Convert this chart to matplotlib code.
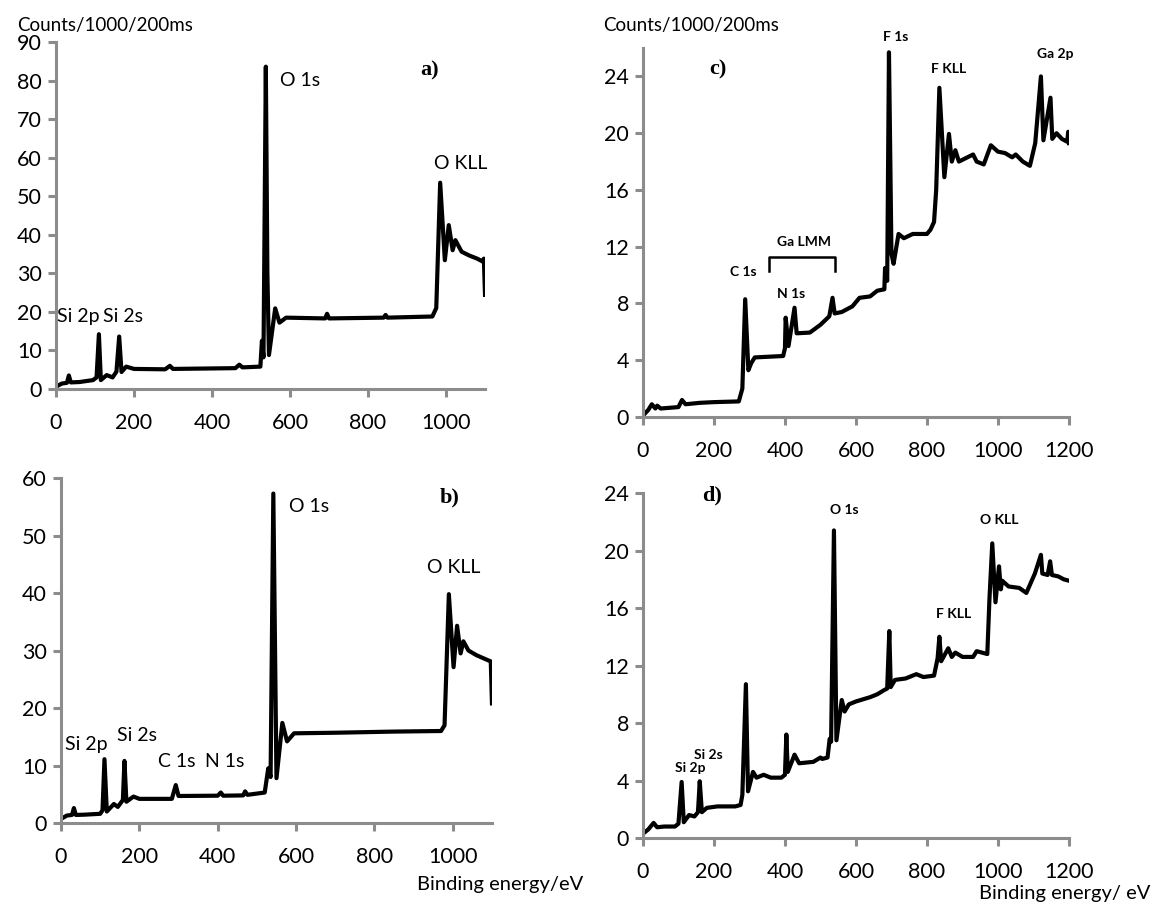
import matplotlib
matplotlib.use("Agg")
import matplotlib.pyplot as plt

plt.rcParams['font.family'] = ['Lato', 'DejaVu Sans']

# -------------------------------
# Spectra (binding energy / eV, counts/1000/200ms)
# -------------------------------
a_ev = [0, 15, 28, 33, 38, 60, 95, 104, 110, 115, 130, 145, 155, 162, 168, 180, 200,
        280, 292, 300, 460, 470, 478, 524, 528, 532, 538, 542, 546, 562, 573, 590,
        690, 695, 700, 840, 845, 850, 965, 975, 985, 997, 1007, 1017, 1024, 1040,
        1060, 1080, 1095, 1097, 1100]
a_cnt = [0.6, 1.4, 1.6, 3.5, 1.7, 1.8, 2.3, 3.0, 14.2, 2.3, 3.6, 3.0, 4.5, 13.6, 4.4,
         5.8, 5.2, 5.1, 6.0, 5.2, 5.4, 6.3, 5.6, 5.8, 12.5, 8.2, 83.6, 30.0, 8.8,
         20.9, 17.2, 18.5, 18.3, 19.5, 18.3, 18.5, 19.2, 18.5, 18.8, 21.0, 53.5,
         33.4, 42.5, 36.0, 38.6, 35.6, 34.6, 33.8, 33.0, 33.8, 24.4]

b_ev = [0, 15, 28, 33, 38, 60, 100, 106, 111, 117, 135, 145, 158, 162, 167, 185, 200,
        283, 293, 300, 400, 408, 414, 465, 470, 476, 520, 529, 535, 542, 550, 565,
        577, 595, 700, 850, 970, 979, 990, 1002, 1011, 1020, 1027, 1040, 1060, 1080,
        1097, 1100]
b_cnt = [0.7, 1.3, 1.4, 2.6, 1.4, 1.45, 1.6, 2.2, 11.1, 2.0, 3.3, 2.8, 4.0, 10.8, 3.7,
         4.6, 4.2, 4.2, 6.6, 4.7, 4.75, 5.3, 4.75, 4.8, 5.5, 4.9, 5.3, 9.5, 8.0, 57.3,
         7.8, 17.4, 14.2, 15.6, 15.7, 15.9, 16.0, 17.0, 39.8, 27.1, 34.3, 29.5, 31.6,
         30.0, 29.2, 28.6, 28.1, 20.8]

c_ev = [0, 15, 25, 35, 40, 50, 100, 110, 120, 160, 200, 270, 280, 288, 297, 305, 315,
        395, 400, 402, 410, 427, 433, 470, 500, 525, 534, 540, 560, 590, 610, 640,
        660, 680, 682, 688, 693, 700, 706, 720, 735, 760, 800, 810, 820, 826, 835,
        849, 862, 870, 880, 890, 930, 940, 960, 980, 1000, 1020, 1040, 1050, 1070,
        1090, 1105, 1121, 1128, 1148, 1153, 1165, 1180, 1195, 1198, 1200]
c_cnt = [0.1, 0.5, 0.9, 0.6, 0.8, 0.6, 0.7, 1.2, 0.9, 1.0, 1.05, 1.1, 2.0, 8.3, 3.3,
         3.8, 4.2, 4.3, 4.85, 7.0, 5.0, 7.7, 5.9, 5.95, 6.5, 7.1, 8.4, 7.3, 7.4, 7.8,
         8.4, 8.5, 8.9, 9.0, 10.5, 9.6, 25.7, 11.5, 10.8, 12.9, 12.6, 12.9, 12.9,
         13.2, 13.75, 16.0, 23.2, 16.9, 19.95, 18.0, 18.8, 18.0, 18.5, 18.0, 17.8,
         19.15, 18.7, 18.6, 18.3, 18.5, 18.0, 17.7, 19.3, 24.0, 19.5, 22.5, 19.6,
         20.0, 19.6, 19.4, 20.1, 19.3]

d_ev = [0, 15, 30, 40, 60, 90, 100, 109, 115, 130, 145, 155, 160, 166, 180, 210, 260,
        275, 280, 290, 296, 310, 320, 340, 360, 390, 400, 404, 408, 427, 440, 480,
        500, 505, 520, 526, 530, 538, 545, 560, 568, 580, 600, 640, 660, 680, 688,
        694, 698, 710, 740, 770, 790, 820, 830, 835, 840, 860, 870, 880, 900, 930,
        940, 970, 976, 984, 993, 1003, 1008, 1012, 1030, 1060, 1080, 1104, 1121,
        1125, 1140, 1147, 1152, 1170, 1185, 1200]
d_cnt = [0.3, 0.6, 1.05, 0.75, 0.8, 0.8, 1.0, 3.9, 1.1, 1.6, 1.5, 1.8, 3.95, 1.8, 2.1,
         2.2, 2.2, 2.3, 3.0, 10.7, 3.25, 4.6, 4.2, 4.4, 4.2, 4.2, 4.4, 7.2, 4.6, 5.8,
         5.2, 5.3, 5.6, 5.5, 5.6, 6.9, 6.7, 21.4, 6.8, 9.6, 8.8, 9.3, 9.5, 9.8, 10.0,
         10.3, 10.4, 14.4, 10.5, 11.0, 11.1, 11.4, 11.2, 11.3, 12.5, 14.0, 12.3,
         13.2, 12.6, 12.9, 12.6, 12.6, 13.0, 12.8, 16.6, 20.5, 16.4, 18.9, 17.3,
         17.9, 17.5, 17.4, 17.05, 18.4, 19.7, 18.4, 18.3, 19.25, 18.3, 18.2, 18.0,
         17.9]

# peak labels: (text, x, y)
a_labels = [('O 1s', 575, 80), ('O KLL', 968, 58.5), ('Si 2p', 3, 18.9), ('Si 2s', 121, 18.9)]
b_labels = [('O 1s', 582, 55), ('O KLL', 934, 44.5), ('Si 2p', 10, 13.6), ('Si 2s', 144, 15.3),
            ('C 1s', 247, 10.7), ('N 1s', 367, 10.7)]
c_labels = [('F 1s', 712, 26.8), ('F KLL', 860, 24.5), ('Ga 2p', 1160, 25.6),
            ('C 1s', 283, 10.2), ('Ga LMM', 453, 12.3), ('N 1s', 418, 8.7)]
d_labels = [('O 1s', 568, 22.8), ('O KLL', 1003, 22.1), ('F KLL', 875, 15.6),
            ('Si 2p', 132, 4.9), ('Si 2s', 185, 5.8)]
ga_lmm_range = (354, 540)

GREY = '#8c8c8c'
LW = 3.0


def style_axis(ax, xmax, ymax, ystep):
    ax.set_xlim(0, xmax)
    ax.set_ylim(0, ymax)
    ax.set_xticks(range(0, xmax + 1, 200))
    ax.set_yticks(range(0, int(ymax) + 1, ystep))
    for s in ['top', 'right']:
        ax.spines[s].set_visible(False)
    for s in ['left', 'bottom']:
        ax.spines[s].set_color(GREY)
        ax.spines[s].set_linewidth(2.2)
    ax.tick_params(axis='both', colors=GREY, labelcolor='black', width=2.2, length=6,
                   labelsize=15.5)
    ax.tick_params(axis='x', pad=11)
    ax.tick_params(axis='y', pad=4)


fig = plt.figure(figsize=(11.57, 9.05), dpi=100)
ax_a = fig.add_axes([0.0484, 0.5702, 0.3708, 0.3834])
ax_c = fig.add_axes([0.5557, 0.5392, 0.3682, 0.4077])
ax_b = fig.add_axes([0.0527, 0.0906, 0.3725, 0.3812])
ax_d = fig.add_axes([0.5557, 0.0740, 0.3682, 0.3812])

ax_a.plot(a_ev, a_cnt, color='black', lw=LW, solid_joinstyle='round')
style_axis(ax_a, 1100, 90, 10)
for t, x, y in a_labels:
    ax_a.text(x, y, t, fontsize=14, va='center', ha='left')
ax_a.text(934, 82.7, 'a)', fontsize=16, fontweight='bold', family='Liberation Serif', va='center')

ax_b.plot(b_ev, b_cnt, color='black', lw=LW, solid_joinstyle='round')
style_axis(ax_b, 1100, 60, 10)
for t, x, y in b_labels:
    ax_b.text(x, y, t, fontsize=14, va='center', ha='left')
ax_b.text(966, 56.7, 'b)', fontsize=16, fontweight='bold', family='Liberation Serif', va='center')

ax_c.plot(c_ev, c_cnt, color='black', lw=LW, solid_joinstyle='round')
style_axis(ax_c, 1200, 26, 4)
for t, x, y in c_labels:
    ax_c.text(x, y, t, fontsize=10, fontweight='bold', va='center', ha='center', clip_on=False)
ax_c.plot([ga_lmm_range[0], ga_lmm_range[0], ga_lmm_range[1], ga_lmm_range[1]],
          [10.3, 11.25, 11.25, 10.3], color='black', lw=1.8)
ax_c.text(188, 24.5, 'c)', fontsize=16, fontweight='bold', family='Liberation Serif', va='center')

ax_d.plot(d_ev, d_cnt, color='black', lw=LW, solid_joinstyle='round')
style_axis(ax_d, 1200, 24, 4)
for t, x, y in d_labels:
    ax_d.text(x, y, t, fontsize=10, fontweight='bold', va='center', ha='center')
ax_d.text(167, 23.8, 'd)', fontsize=16, fontweight='bold', family='Liberation Serif', va='center')

fig.text(17 / 1157, 1 - 25 / 905, 'Counts/1000/200ms', fontsize=13.5, va='center')
fig.text(603 / 1157, 1 - 25 / 905, 'Counts/1000/200ms', fontsize=13.5, va='center')
fig.text(583 / 1157, 1 - 884 / 905, 'Binding energy/eV', fontsize=14.5, va='center', ha='right')
fig.text(1150 / 1157, 1 - 893 / 905, 'Binding energy/ eV', fontsize=14.5, va='center', ha='right')

fig.savefig('out.png', dpi=100)
